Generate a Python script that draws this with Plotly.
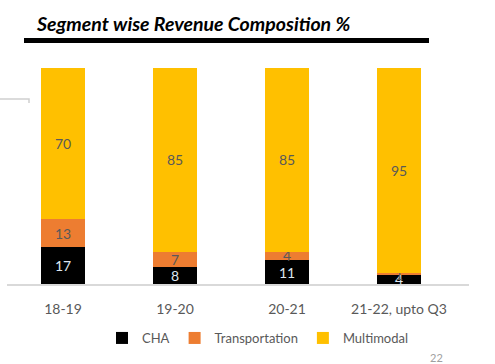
import plotly.graph_objects as go

categories = ["18-19", "19-20", "20-21", "21-22, upto Q3"]
cha = [17, 8, 11, 4]
transportation = [13, 7, 4, 1]
multimodal = [70, 85, 85, 95]

W, H = 495, 364
L, R, T, B = 7, 26, 68, 80
PW = W - L - R
PH = H - T - B

def px(x):
    return (x - L) / PW

def py(y):
    return (H - B - y) / PH

font_fam = "Lato, 'Open Sans', sans-serif"

fig = go.Figure()
series = [
    ("CHA", cha, "#000000", "#dde6f0"),
    ("Transportation", transportation, "#ED7D31", "#595959"),
    ("Multimodal", multimodal, "#FFC000", "#595959"),
]
for name, vals, col, tcol in series:
    fig.add_trace(go.Bar(
        x=categories, y=vals, name=name,
        marker=dict(color=col, line=dict(width=0)),
        width=0.40,
        text=[str(v) for v in vals],
        textposition="inside",
        insidetextanchor="middle",
        textangle=0,
        textfont=dict(color=tcol, size=14, family=font_fam),
        hoverinfo="skip",
    ))

fig.update_layout(
    barmode="stack",
    width=W, height=H,
    margin=dict(l=L, r=R, t=T, b=B, pad=0, autoexpand=False),
    paper_bgcolor="white", plot_bgcolor="white",
    uniformtext=dict(minsize=14, mode="show"),
    showlegend=True,
    legend=dict(orientation="h", traceorder="normal",
                xref="container", yref="container",
                x=258 / W, xanchor="center", y=1 - 338 / H, yanchor="middle",
                font=dict(size=13, color="#595959", family=font_fam),
                itemwidth=30, tracegroupgap=0),
    xaxis=dict(range=[-0.5, 3.625], showline=True, linecolor="#d9d9d9", linewidth=1.5,
               ticks="", showgrid=False, automargin=False,
               tickfont=dict(size=14, color="#595959", family=font_fam),
               ticklabelstandoff=11),
    yaxis=dict(range=[0, 100], visible=False, showgrid=False, automargin=False),
    shapes=[
        dict(type="line", xref="paper", yref="paper", x0=px(24), x1=px(429),
             y0=py(40.5), y1=py(40.5), line=dict(color="black", width=5)),
        dict(type="path", xref="paper", yref="paper",
             path=f"M {px(0)},{py(99)} L {px(29)},{py(99)} L {px(29)},{py(103)}",
             line=dict(color="#d0d0d0", width=1.5)),
    ],
    annotations=[
        dict(text="<b><i>Segment wise Revenue Composition %</i></b>",
             xref="paper", yref="paper", x=px(34), xanchor="left",
             y=py(23), yanchor="middle", showarrow=False,
             font=dict(size=19.5, color="#000000", family=font_fam)),
        dict(text="22", xref="paper", yref="paper", x=px(445), y=py(357),
             yanchor="middle", showarrow=False,
             font=dict(size=11, color="#a0a0a0", family=font_fam)),
    ],
)

fig.write_html("out.html", config={"displayModeBar": False},
               post_script="document.body.style.margin='0';")
